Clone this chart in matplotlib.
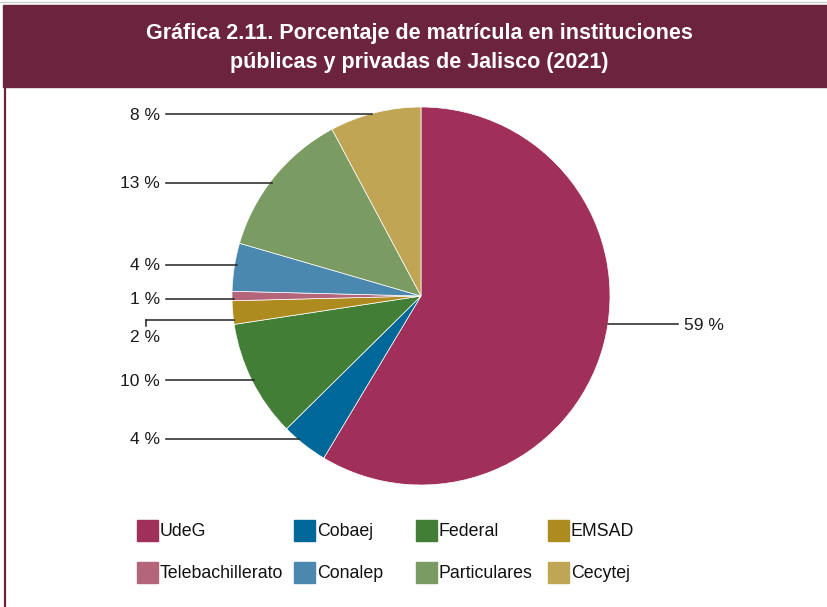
import matplotlib
matplotlib.use('Agg')
import numpy as np
import matplotlib.pyplot as plt
from matplotlib.patches import Rectangle

# data
categories = ['UdeG', 'Cobaej', 'Federal', 'EMSAD', 'Telebachillerato', 'Conalep', 'Particulares', 'Cecytej']
values = [58.6, 4.0, 10.0, 2.0, 0.8, 4.1, 12.7, 7.8]
colors = ['#A0305A', '#006898', '#427E35', '#AE8B1F', '#B5657A', '#4A88B0', '#7A9B62', '#C0A555']
title = 'Gráfica 2.11. Porcentaje de matrícula en instituciones\npúblicas y privadas de Jalisco (2021)'

FONT = ['Liberation Sans', 'DejaVu Sans']
MAROON = '#6B233E'
W, H = 827, 607

fig = plt.figure(figsize=(W / 100, H / 100), dpi=100)
ax = fig.add_axes([0, 0, 1, 1])

def py(y):
    # pixel row -> data y
    return H - y

# pie
cx, cy, r = 421, 296, 189
wedges, _ = ax.pie(values, colors=colors, startangle=90, counterclock=False,
                   center=(cx, py(cy)), radius=r, frame=True,
                   wedgeprops=dict(edgecolor='white', linewidth=0.5))
ax.set_xlim(0, W)
ax.set_ylim(0, H)
ax.axis('off')

# banner + frame
ax.add_patch(Rectangle((3, py(87)), W - 3, 82, color=MAROON, zorder=1))
ax.plot([4.5, 4.5], [py(87), 0], color=MAROON, lw=1.6, zorder=1)
ax.plot([0, W], [py(1.5), py(1.5)], color='#cccccc', lw=1, zorder=1)
ax.text(419, py(48), title, ha='center', va='center', color='white',
        fontsize=15.5, fontweight='bold', family=FONT, linespacing=1.45, zorder=2)

# leader lines / labels
label_y = [324, 439, 380, 320, 299, 265, 183, 114]
for i, (v, yl) in enumerate(zip(values, label_y)):
    txt = f'{round(v):.0f} %'
    dx = np.sqrt(max(r ** 2 - (cy - yl) ** 2, 0))
    if i == 0:
        xe = cx + dx
        ax.plot([xe, 678], [py(yl), py(yl)], color='#222222', lw=1.1)
        ax.text(684, py(yl + 1), txt, ha='left', va='center', fontsize=12.5, family=FONT, color='#1a1a1a')
    elif categories[i] == 'EMSAD':
        xe = cx - dx
        ax.plot([146, xe], [py(yl), py(yl)], color='#222222', lw=1.1)
        ax.plot([146, 146], [py(yl), py(yl + 6)], color='#222222', lw=1.1)
        ax.text(145, py(338), txt, ha='center', va='center', fontsize=12.5, family=FONT, color='#1a1a1a')
    else:
        xe = cx - dx
        ax.plot([166, xe + 2], [py(yl), py(yl)], color='#222222', lw=1.1)
        ax.text(160, py(yl + 1), txt, ha='right', va='center', fontsize=12.5, family=FONT, color='#1a1a1a')

# legend
col_x = [137, 294, 416, 548]
row_y = [530, 572]
for i, (name, c) in enumerate(zip(categories, colors)):
    x0 = col_x[i % 4]
    y0 = row_y[i // 4]
    ax.add_patch(Rectangle((x0, py(y0 + 10.5)), 21, 21, color=c))
    ax.text(x0 + 23, py(y0 + 1), name, ha='left', va='center', fontsize=12.8, family=FONT, color='#111111')

plt.savefig('out.png', dpi=100)
